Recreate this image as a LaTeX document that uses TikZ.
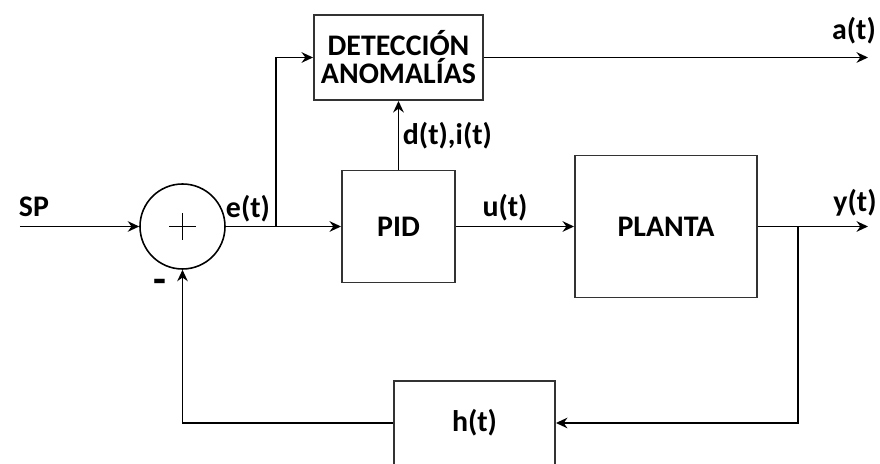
\documentclass[tikz,border=0pt]{standalone}
\usepackage{fontspec}
\setmainfont{Carlito}
\usetikzlibrary{arrows.meta,shapes.geometric}

\tikzset{
  bloque/.style={draw=black!80, line width=1.1pt, minimum width=#1, align=center},
}

\begin{document}
\begin{tikzpicture}[>={Stealth[length=6.5pt,width=6pt]}, line width=1pt, font=\fontsize{17}{16}\selectfont\bfseries]
    % marco de la figura
    \clip (0,0) rectangle (17.6,-9.28);

    % bloques
    \node[bloque=3.38cm, minimum height=1.7cm] (det) at (7.97,-1.15) {DETECCIÓN\\ANOMALÍAS};
    \node[bloque=2.26cm, minimum height=2.24cm] (pid) at (7.97,-4.53) {PID};
    \node[bloque=3.64cm, minimum height=2.84cm] (planta) at (13.32,-4.53) {PLANTA};
    \node[bloque=3.22cm, minimum height=1.68cm] (hbox) at (9.49,-8.46) {h(t)};

    % sumador
    \node[circle, draw, line width=0.9pt, minimum size=1.7cm] (sum) at (3.65,-4.53) {};
    \draw[line width=0.8pt] (sum.center) ++(-0.27,0) -- ++(0.54,0);
    \draw[line width=0.8pt] (sum.center) ++(0,-0.27) -- ++(0,0.54);

    % puntos de entrada, salida y derivacion
    \coordinate (in) at (0.4,-4.53);
    \coordinate (ebr) at (5.52,-4.53);
    \coordinate (ybr) at (15.96,-4.53);
    \coordinate (yout) at (17.36,-4.53);
    \coordinate (aout) at (17.36,-1.15);

    % conexiones
    \draw[->] (in) -- (sum.west);
    \draw[->] (sum.east) -- (pid.west);
    \draw[->] (ebr) |- (det.west);
    \draw[->] (pid.north) -- (det.south) node[midway, right, inner sep=2pt] (di) {d(t),i(t)};
    \draw[->] (pid.east) -- (planta.west);
    \draw[->] (planta.east) -- (yout);
    \draw[->] (det.east) -- (aout);
    \draw[->] (ybr) |- (hbox.east);
    \draw[->] (hbox.west) -| (sum.south);

    % etiquetas
    \node (sp) at (0.68,-4.14) {SP};
    \node (e) at (4.96,-4.18) {e(t)};
    \node (u) at (10.1,-4.16) {u(t)};
    \node (y) at (17.1,-4.06) {y(t)};
    \node (a) at (17.08,-0.62) {a(t)};
    \node[font=\fontsize{24}{24}\selectfont\bfseries] (menos) at (3.2,-5.73) {-};
\end{tikzpicture}
\end{document}
